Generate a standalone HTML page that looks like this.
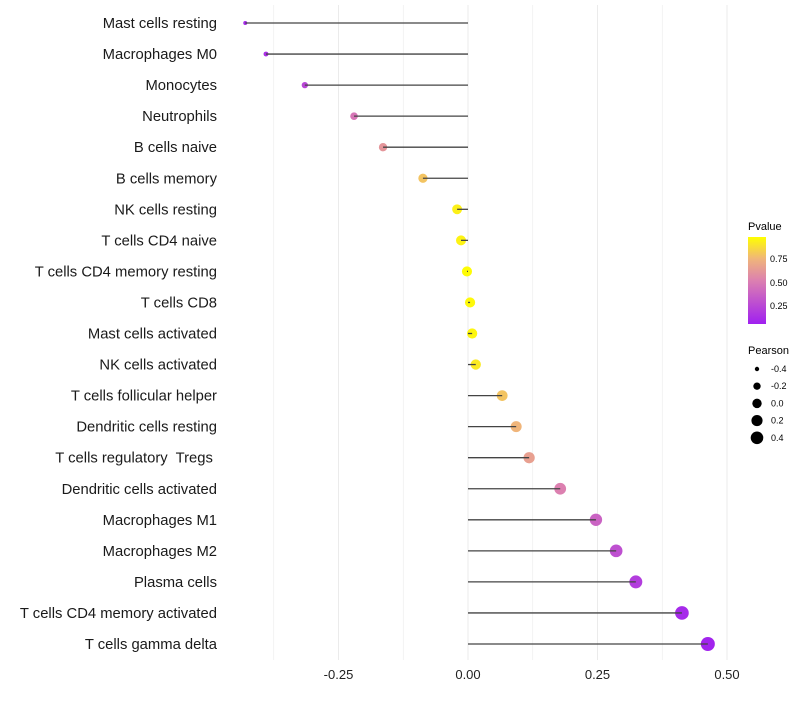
<!DOCTYPE html>
<html><head><meta charset="utf-8"><style>body{margin:0;background:#fff}svg{font-family:"Liberation Sans",sans-serif}</style></head>
<body>
<svg id="chart" width="800" height="700">
<defs><linearGradient id="pg" x1="0" y1="1" x2="0" y2="0">
<stop offset="0" stop-color="#A020F0"/><stop offset="0.5" stop-color="#DC80B0"/><stop offset="0.75" stop-color="#F0B57A"/><stop offset="1" stop-color="#FFFF00"/></linearGradient></defs>
<g id="grid"></g><g id="marks"></g><g id="labels"></g>
<g>
<text x="748" y="230" font-size="11">Pvalue</text>
<rect x="748" y="237" width="18" height="87" fill="url(#pg)"/>
<text x="770" y="262" font-size="9">0.75</text><text x="770" y="286" font-size="9">0.50</text><text x="770" y="309" font-size="9">0.25</text>
</g>
<g id="sizeleg">
<text x="748" y="354" font-size="11">Pearson</text>
</g>
</svg>
<script>
const cells=["Mast cells resting","Macrophages M0","Monocytes","Neutrophils","B cells naive","B cells memory","NK cells resting","T cells CD4 naive","T cells CD4 memory resting","T cells CD8","Mast cells activated","NK cells activated","T cells follicular helper","Dendritic cells resting","T cells regulatory  Tregs ","Dendritic cells activated","Macrophages M1","Macrophages M2","Plasma cells","T cells CD4 memory activated","T cells gamma delta"];
const pearson=[-0.43,-0.39,-0.315,-0.22,-0.164,-0.087,-0.021,-0.0135,-0.002,0.004,0.008,0.015,0.066,0.093,0.118,0.178,0.247,0.286,0.324,0.413,0.463];
const pvalue=[0.05,0.08,0.2,0.45,0.6,0.8,0.95,0.96,0.99,0.98,0.97,0.93,0.8,0.75,0.65,0.5,0.35,0.25,0.15,0.05,0.02];
const xticks=[-0.25,0,0.25,0.5];
const xtickLabels=["-0.25","0.00","0.25","0.50"];
const legVals=[-0.4,-0.2,0.0,0.2,0.4];
const legLabels=["-0.4","-0.2","0.0","0.2","0.4"];
const NS="http://www.w3.org/2000/svg";
const X=v=>468+v*518, Y=i=>23+i*31.05, R=v=>Math.sqrt(Math.max(1,25.7+50.4*v));
function col(p){const s=[[0,[160,32,240]],[0.5,[220,128,176]],[0.75,[240,181,122]],[1,[255,255,0]]];
for(let k=1;k<s.length;k++){if(p<=s[k][0]){const t=(p-s[k-1][0])/(s[k][0]-s[k-1][0]);const a=s[k-1][1],b=s[k][1];return `rgb(${a.map((c,j)=>Math.round(c+(b[j]-c)*t)).join(',')})`;}}return 'rgb(255,255,0)';}
function mk(t,at,p){const e=document.createElementNS(NS,t);for(const k in at)e.setAttribute(k,at[k]);p.appendChild(e);return e;}
const grid=document.getElementById('grid'),marks=document.getElementById('marks'),labels=document.getElementById('labels');
for(let v=-0.375;v<=0.51;v+=0.125){const g=mk('line',{x1:X(v),x2:X(v),y1:5,y2:660,stroke:'#ebebeb','stroke-width':xticks.includes(v)?1:0.6},grid);

}
xticks.forEach((v,i)=>{const t=mk('text',{x:X(v),y:679,'font-size':13,'text-anchor':'middle',fill:'#222'},labels);t.textContent=xtickLabels[i];

});
cells.forEach((c,i)=>{const y=Y(i);
const t=mk('text',{x:217,y:y+5,'font-size':14.8,'text-anchor':'end',fill:'#1a1a1a',style:'white-space:pre'},labels);t.textContent=c;


const ci=mk('circle',{cx:X(pearson[i]),cy:y,r:R(pearson[i]),fill:col(pvalue[i])},marks);


const l=mk('line',{x1:X(0),x2:X(pearson[i]),y1:y,y2:y,stroke:'#444','stroke-width':1.3},marks);

});
const sl=document.getElementById('sizeleg');
legVals.forEach((v,i)=>{const y=369+i*17.2;const c=mk('circle',{cx:757,cy:y,r:R(v)*0.93,fill:'#000'},sl);


const t=mk('text',{x:771,y:y+3,'font-size':9},sl);t.textContent=legLabels[i];

});
</script>
</body></html>
